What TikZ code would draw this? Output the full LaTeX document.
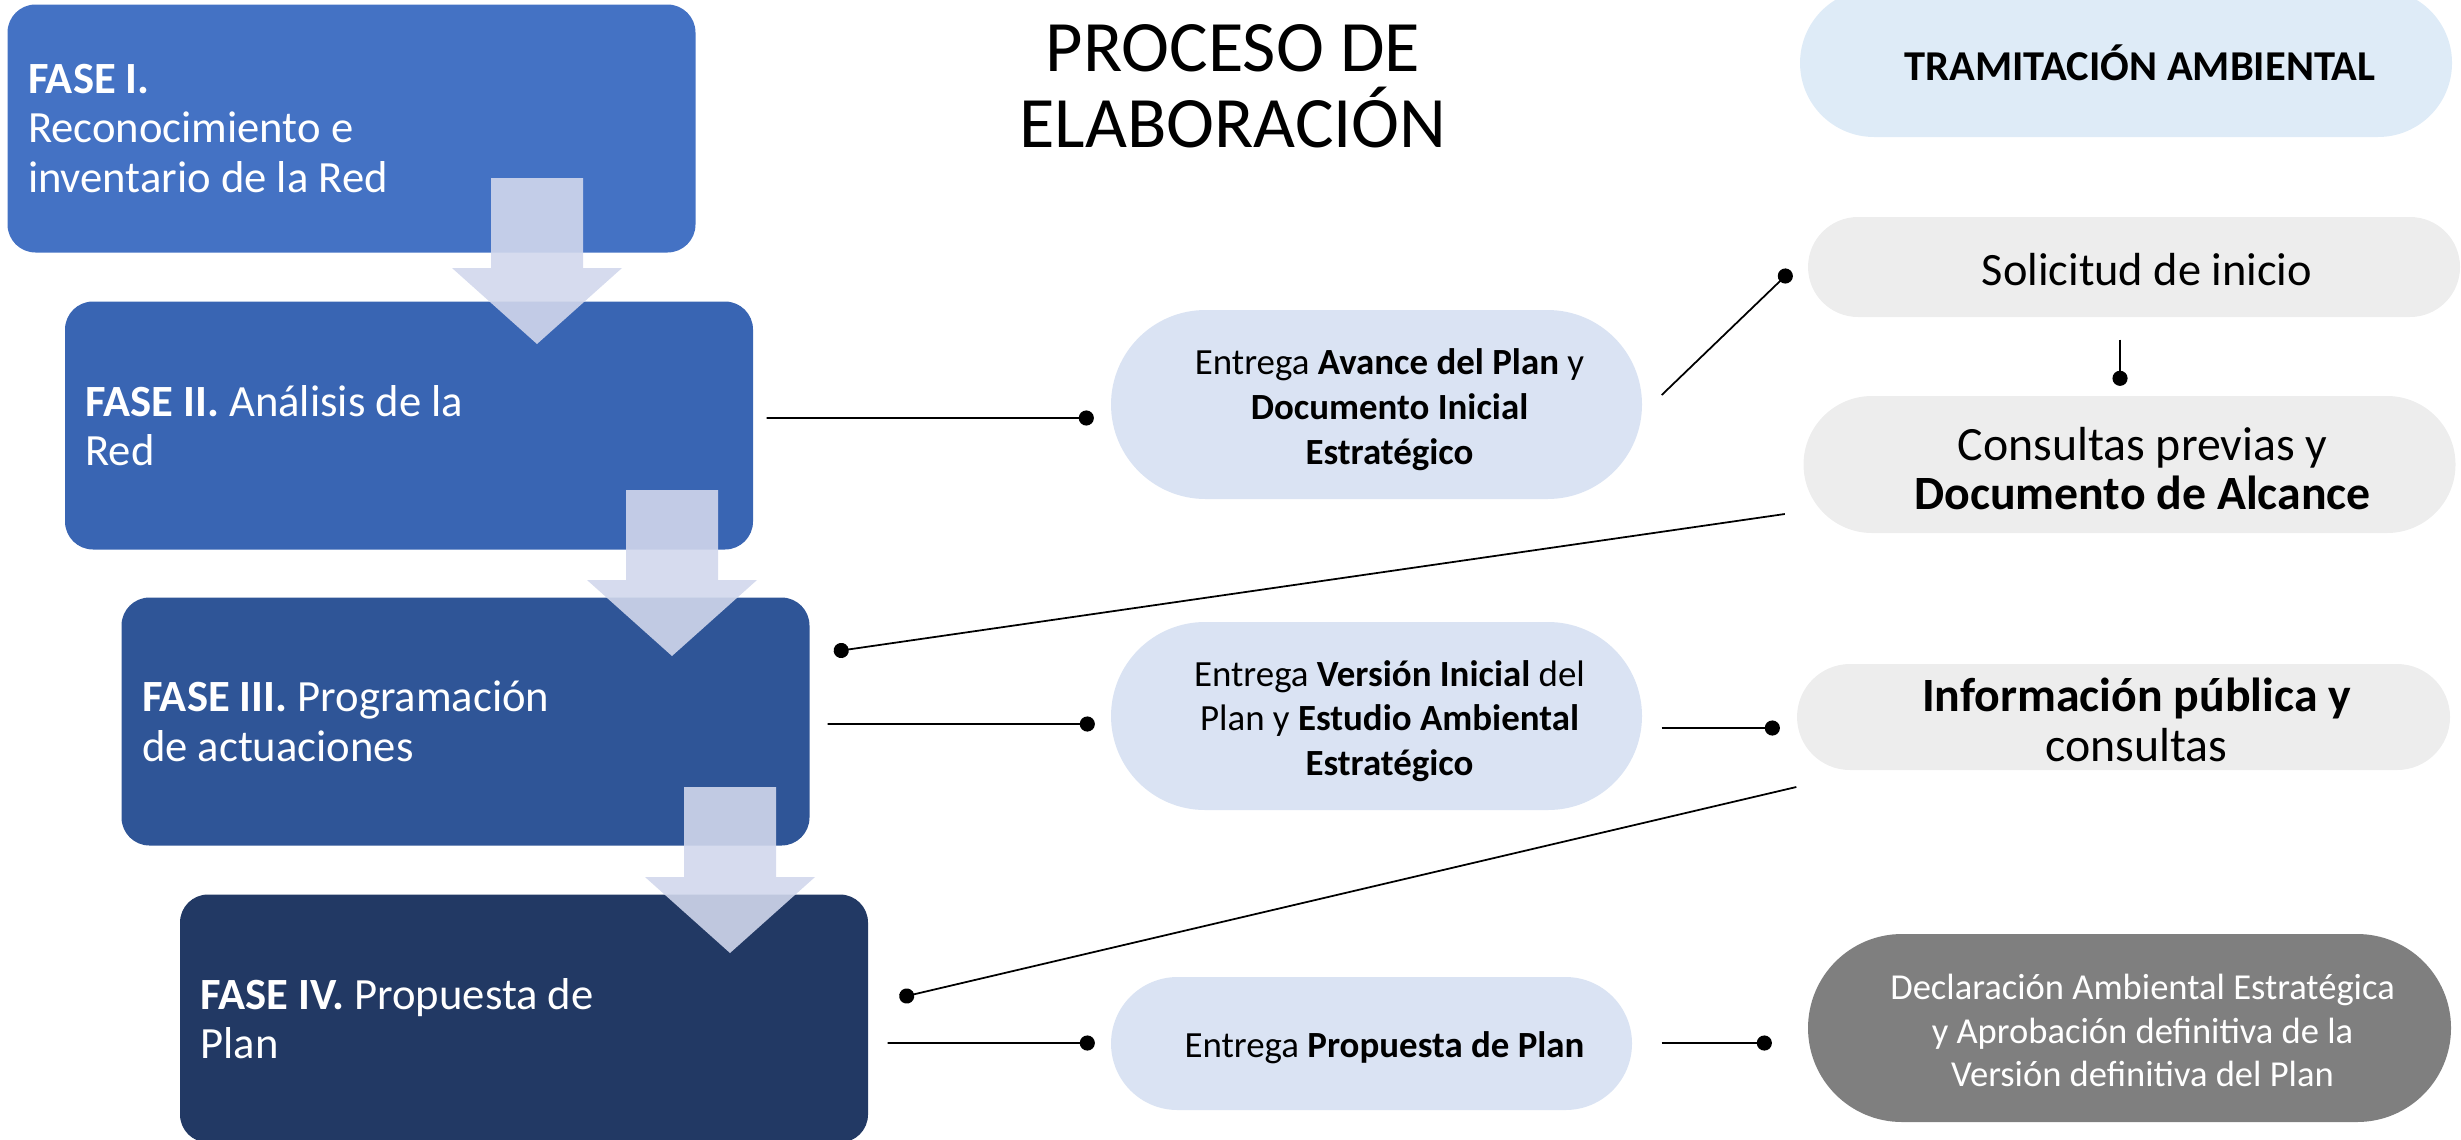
\documentclass[tikz,border=0pt]{standalone}
\usepackage{fontspec}
\setmainfont{Carlito}
\usetikzlibrary{arrows.meta,calc,shapes.misc}

\definecolor{faseA}{HTML}{4472C4}
\definecolor{faseB}{HTML}{3965B3}
\definecolor{faseC}{HTML}{2F5597}
\definecolor{faseD}{HTML}{223964}
\definecolor{entregafill}{HTML}{DAE3F3}
\definecolor{tramfill}{HTML}{DEEBF7}
\definecolor{pasofill}{HTML}{EDEDED}
\definecolor{declfill}{HTML}{7F7F7F}
\definecolor{flecha}{RGB}{209,215,236}

% texto centrado, algo desplazado a la derecha y hacia abajo
\newcommand{\linea}[2][0pt]{\hspace*{2.6mm}\raisebox{-#1}[\height][\depth]{#2}}
\newcommand{\lineas}[2][0pt]{\hspace*{2.6mm}\raisebox{-#1}[\height][\depth]{\begin{tabular}{@{}c@{}}#2\end{tabular}}}

\tikzset{
  fase/.style={rectangle,rounded corners=2.8mm,minimum width=68.8mm,minimum height=24.8mm,
    text width=64.7mm,inner xsep=2.05mm,align=flush left,text=white,font=\fontsize{12.7}{14.1}\selectfont},
  pill/.style={rounded rectangle,inner sep=0pt},
  entrega/.style={pill,fill=entregafill,minimum width=53.1mm,font=\fontsize{10.5}{12.8}\selectfont},
  paso/.style={pill,fill=pasofill,minimum width=65.2mm},
  con/.style={line width=0.5pt,-{Circle[length=4.3pt]},shorten >=-2.15pt},
  bajada/.style={fill=flecha,fill opacity=0.9}
}

\begin{document}
\begin{tikzpicture}[x=0.1mm,y=-0.1mm]

\useasboundingbox (0,0) rectangle (2461,1139);
\clip (0,0) rectangle (2461,1139);

\node[align=flush center,font=\fontsize{20.6}{21.6}\selectfont] (titulo) at (1233,86) {PROCESO DE\\ELABORACIÓN};

% fases
\node[fase,fill=faseA] (f1) at (351.5,128.5) {\textbf{FASE I.}\\Reconocimiento e\\inventario de la Red};
\node[fase,fill=faseB] (f2) at (409,425.5) {\textbf{FASE II.} Análisis de la\\Red};
\node[fase,fill=faseC] (f3) at (465.5,721.5) {\textbf{FASE III.} Programación\\de actuaciones};
\node[fase,fill=faseD] (f4) at (524,1018.5) {\textbf{FASE IV.} Propuesta de\\Plan};

% entregas
\node[entrega,minimum height=18.9mm] (e1) at (1376.5,404.5) {\lineas[1.7pt]{Entrega \textbf{Avance del Plan} y\\\textbf{Documento Inicial}\\\textbf{Estratégico}}};
\node[entrega,minimum height=18.8mm] (e2) at (1376.5,716) {\lineas[1.7pt]{Entrega \textbf{Versión Inicial} del\\Plan y \textbf{Estudio Ambiental}\\\textbf{Estratégico}}};
\node[entrega,minimum width=52.1mm,minimum height=13.3mm] (e3) at (1371.5,1043.5) {\linea[1.2pt]{Entrega \textbf{Propuesta de Plan}}};

% tramitacion ambiental
\node[pill,fill=tramfill,minimum width=65.2mm,minimum height=14.8mm,font=\bfseries\fontsize{12.1}{14}\selectfont] (ta) at (2126,63) {\hspace*{2.8mm}TRAMITACIÓN AMBIENTAL};
\node[paso,minimum height=10mm,font=\fontsize{13.2}{15}\selectfont] (si) at (2134,267) {\linea[0.8pt]{Solicitud de inicio}};
\node[paso,minimum height=13.7mm,font=\fontsize{13.6}{14.2}\selectfont] (cp) at (2129.5,464.5) {\lineas[3pt]{Consultas previas y\\\textbf{Documento de Alcance}}};
\node[paso,minimum width=65.3mm,minimum height=10.6mm,font=\fontsize{13.6}{14.2}\selectfont] (ip) at (2123.5,717) {\lineas[2.7pt]{\textbf{Información pública y}\\consultas}};
\node[pill,fill=declfill,text=white,minimum width=64.3mm,minimum height=18.8mm,font=\fontsize{10.4}{12.4}\selectfont] (da) at (2129.5,1028) {\lineas[1.8pt]{Declaración Ambiental Estratégica\\y Aprobación definitiva de la\\Versión definitiva del Plan}};

% conectores
\draw[con] ($(f2.east)+(13,-7.5)$) -- ($(e1.west)+(-24,13.5)$);
\draw[con] ($(e1.east)+(19,-9.5)$) -- ($(si.west)+(-22,9)$);
\draw[con] ($(si.south)+(-14,22)$) -- ($(cp.north)+(-9.5,-17)$);
\draw[con] ($(cp.west)+(-18,49.5)$) -- ($(f3.east)+(31,-71)$);
\draw[con] ($(f3.east)+(17.5,2.5)$) -- ($(e2.west)+(-23,8)$);
\draw[con] ($(e2.east)+(19,12)$) -- ($(ip.west)+(-24,11)$);
\draw[con] ($(ip.west)+(0,70)$) -- ($(f4.east)+(38,-22.5)$);
\draw[con] ($(f4.east)+(19,24.5)$) -- ($(e3.west)+(-23,-0.5)$);
\draw[con] ($(e3.east)+(29,-0.5)$) -- ($(da.west)+(-43,15)$);

% flechas entre fases
\fill[bajada] (491,178) -- ++(92,0) -- ++(0,90) -- ++(39,0) -- ++(-85,76) -- ++(-85,-76) -- ++(39,0) -- cycle;
\fill[bajada] (626,490) -- ++(92,0) -- ++(0,90) -- ++(39,0) -- ++(-85,76) -- ++(-85,-76) -- ++(39,0) -- cycle;
\fill[bajada] (684,787) -- ++(92,0) -- ++(0,90) -- ++(39,0) -- ++(-85,76) -- ++(-85,-76) -- ++(39,0) -- cycle;

\end{tikzpicture}
\end{document}
